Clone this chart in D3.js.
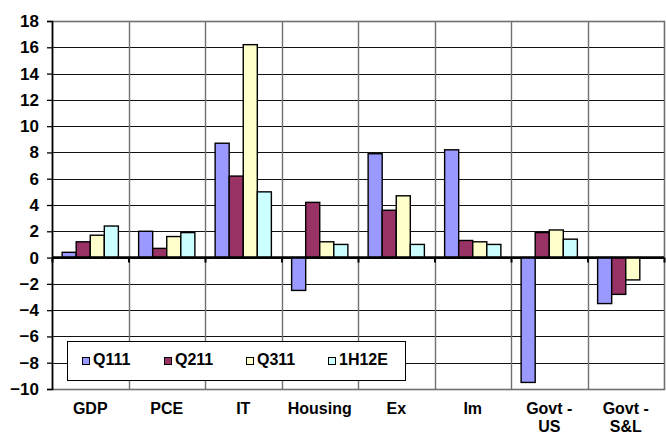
<!DOCTYPE html>
<html>
<head>
<meta charset="utf-8">
<script src="https://cdn.jsdelivr.net/npm/d3@7"></script>
<style>
  html, body { margin: 0; padding: 0; background: #fff; }
  svg { display: block; }
  text { font-family: "Liberation Sans", Arial, sans-serif; font-weight: bold; fill: #000; }
</style>
</head>
<body>
<svg id="chart" width="666" height="436"></svg>
<script>
// Categories (multi-line labels split on "\n")
const categories = ["GDP", "PCE", "IT", "Housing", "Ex", "Im", "Govt -\nUS", "Govt -\nS&L"];
const seriesNames = ["Q111", "Q211", "Q311", "1H12E"];
const seriesColors = ["#9999FF", "#993366", "#FFFFCC", "#CCFFFF"];

// Growth rates per series, in category order
const q111  = [0.4, 2.0, 8.7, -2.5, 7.9, 8.2, -9.5, -3.5];
const q211  = [1.2, 0.7, 6.2, 4.2, 3.6, 1.3, 1.9, -2.8];
const q311  = [1.7, 1.6, 16.2, 1.2, 4.7, 1.2, 2.1, -1.7];
const h112e = [2.4, 1.9, 5.0, 1.0, 1.0, 1.0, 1.4, null];

const yTicks = [-10, -8, -6, -4, -2, 0, 2, 4, 6, 8, 10, 12, 14, 16, 18];

const seriesValues = [q111, q211, q311, h112e];

const svg = d3.select("#chart");
const plot = { left: 52, top: 21, right: 664, bottom: 389 };

const y = d3.scaleLinear().domain([-10, 18]).range([plot.bottom, plot.top]);
const x0 = d3.scaleBand().domain(categories).range([plot.left, plot.right]).paddingInner(0).paddingOuter(0);
const x1 = d3.scaleBand().domain(seriesNames).range([0, x0.bandwidth()]).paddingInner(0).paddingOuter(0.72);

// Horizontal gridlines
svg.append("g")
  .selectAll("line")
  .data(yTicks)
  .join("line")
  .attr("x1", plot.left).attr("x2", plot.right)
  .attr("y1", d => Math.round(y(d)) + 0.5).attr("y2", d => Math.round(y(d)) + 0.5)
  .attr("stroke", "#111").attr("stroke-width", 1.2);

// Vertical category separators
svg.append("g")
  .selectAll("line")
  .data(categories.slice(1))
  .join("line")
  .attr("x1", d => Math.round(x0(d)) + 0.5).attr("x2", d => Math.round(x0(d)) + 0.5)
  .attr("y1", plot.top).attr("y2", plot.bottom)
  .attr("stroke", "#707070").attr("stroke-width", 1.4);

// Plot frame
svg.append("rect")
  .attr("x", plot.left + 0.5).attr("y", plot.top + 0.5)
  .attr("width", plot.right - plot.left).attr("height", plot.bottom - plot.top)
  .attr("fill", "none").attr("stroke", "#707070").attr("stroke-width", 1.6);

// Bars
const rows = [];
categories.forEach((c, i) => {
  seriesNames.forEach((s, j) => {
    const v = seriesValues[j][i];
    if (v !== null) rows.push({ cat: c, series: s, value: v, color: seriesColors[j] });
  });
});

svg.append("g")
  .selectAll("rect")
  .data(rows)
  .join("rect")
  .attr("x", d => x0(d.cat) + x1(d.series))
  .attr("width", x1.bandwidth())
  .attr("y", d => y(Math.max(0, d.value)))
  .attr("height", d => Math.abs(y(d.value) - y(0)))
  .attr("fill", d => d.color)
  .attr("stroke", "#000").attr("stroke-width", 1.4);

// Y axis
const yAxis = svg.append("g")
  .attr("transform", `translate(${plot.left},0)`)
  .call(d3.axisLeft(y).tickValues(yTicks).tickSize(5).tickPadding(8).tickFormat(d3.format("d")));
yAxis.select(".domain").attr("stroke", "#000").attr("stroke-width", 1.6);
yAxis.selectAll(".tick line").attr("stroke", "#000").attr("stroke-width", 1.3);
yAxis.selectAll(".tick text")
  .style("font-family", "'Liberation Sans', Arial, sans-serif")
  .style("font-weight", "bold").style("font-size", "17px").attr("fill", "#000");

// Zero line with category tick marks
const zeroY = y(0);
svg.append("line")
  .attr("x1", plot.left).attr("x2", plot.right)
  .attr("y1", zeroY).attr("y2", zeroY)
  .attr("stroke", "#000").attr("stroke-width", 2.5);
svg.append("g")
  .selectAll("line")
  .data(categories.concat(["__end"]))
  .join("line")
  .attr("x1", (d, i) => i < categories.length ? x0(d) + 0.5 : plot.right + 0.5)
  .attr("x2", (d, i) => i < categories.length ? x0(d) + 0.5 : plot.right + 0.5)
  .attr("y1", zeroY).attr("y2", zeroY + 5)
  .attr("stroke", "#000").attr("stroke-width", 2);

// Category labels below the plot, one text element per line
const catLabels = svg.append("g");
categories.forEach(c => {
  const cx = x0(c) + x0.bandwidth() / 2;
  c.split("\n").forEach((line, k) => {
    catLabels.append("text")
      .attr("x", cx)
      .attr("y", 414 + k * 18)
      .attr("text-anchor", "middle")
      .style("font-size", "16px")
      .text(line);
  });
});

// Legend
const legend = svg.append("g");
legend.append("rect")
  .attr("x", 67.5).attr("y", 341.5).attr("width", 338).attr("height", 39)
  .attr("fill", "#fff").attr("stroke", "#000").attr("stroke-width", 1);
const legendStep = 82;
seriesNames.forEach((s, j) => {
  const gx = 82 + j * legendStep;
  legend.append("rect")
    .attr("x", gx + 0.5).attr("y", 357.5).attr("width", 7).attr("height", 7)
    .attr("fill", seriesColors[j]).attr("stroke", "#000").attr("stroke-width", 1);
  legend.append("text")
    .attr("x", gx + 11).attr("y", 365)
    .style("font-size", "16px")
    .text(s);
});
</script>
</body>
</html>
